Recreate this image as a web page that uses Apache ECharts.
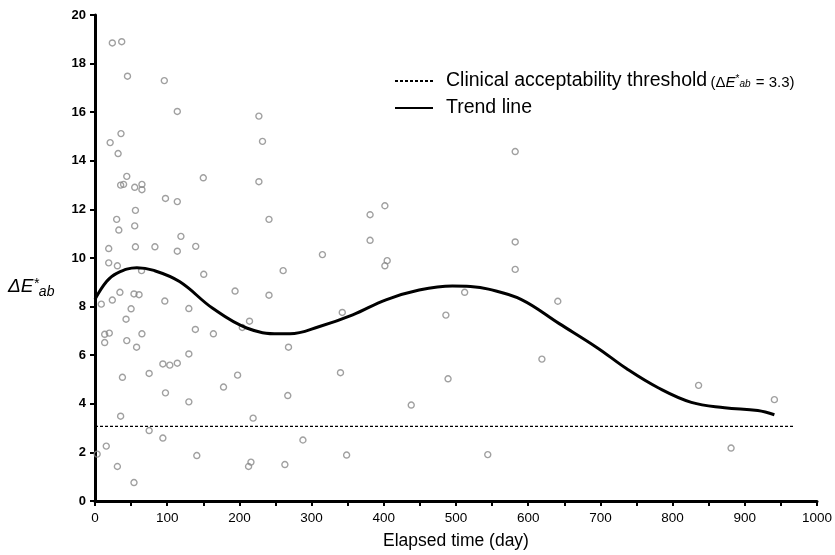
<!DOCTYPE html>
<html>
<head>
<meta charset="utf-8">
<script src="https://cdn.jsdelivr.net/npm/echarts@6/dist/echarts.min.js"></script>
<style>html,body{margin:0;padding:0;background:#fff;}#c{width:835px;height:555px;}</style>
</head>
<body>
<div id="c"></div>
<script>
// Measurements: elapsed time (day) and colour difference ΔE*ab
var scatterDays = [24,37,45,96,114,227,36,21,232,32,44,150,227,35.5,39.6,55,65,65,97.6,114,56,30,241,33,55,119,19,56,83,114,139.5,19,31,64.5,150.6,34.5,54,61,24,194,241,8.7,96.7,50,130,43,214,204,139,164,13.4,19.8,65,13.4,44,57.6,130,94,103.6,114,38,75,197.5,178,97.6,130,35.5,219,75,94,15.6,3,141,31,212.7,216,54,263,401.5,381,381,315,404.7,401.5,260.6,512,342.5,486,268,340,489,267,438,288,348.5,582,582,582,641,619,836,941,544,881];
var scatterValues = [18.85,18.9,17.48,17.3,16.03,15.84,15.12,14.75,14.8,14.3,13.36,13.3,13.14,13.0,13.03,12.91,13.03,12.81,12.45,12.32,11.96,11.59,11.59,11.15,11.32,10.89,10.39,10.46,10.46,10.28,10.48,9.8,9.68,9.48,9.33,8.59,8.52,8.49,8.27,8.64,8.47,8.1,8.23,7.91,7.92,7.48,7.4,7.14,7.06,6.88,6.86,6.91,6.88,6.52,6.6,6.33,6.05,5.64,5.59,5.67,5.09,5.25,5.18,4.69,4.45,4.08,3.49,3.41,2.9,2.59,2.26,1.93,1.87,1.42,1.42,1.6,0.76,1.5,12.15,11.78,10.73,10.14,9.89,9.68,9.48,8.59,7.76,7.65,6.33,5.28,5.03,4.34,3.95,2.51,1.89,14.38,10.66,9.53,8.22,5.84,4.76,4.17,1.91,2.18];

// Trend line
var trendDays   = [0, 16, 30, 58, 80, 117, 163, 210, 255, 270, 311, 357, 403, 449, 495, 520, 545, 590, 643, 696, 736, 780, 826, 872, 918, 941];
var trendValues = [8.3, 9.03, 9.37, 9.6, 9.5, 9.03, 7.93, 7.12, 6.88, 6.88, 7.18, 7.66, 8.28, 8.68, 8.85, 8.83, 8.72, 8.3, 7.3, 6.3, 5.45, 4.66, 4.06, 3.84, 3.72, 3.55];

// Clinical acceptability threshold (as drawn)
var thresholdDays = [0, 967];
var thresholdValue = 3.07;

var thresholdName = 'Clinical acceptability threshold';
var trendName = 'Trend line';

function zip(a, b) { return a.map(function (v, i) { return [v, b[i]]; }); }

var chart = echarts.init(document.getElementById('c'), null, {renderer: 'canvas'});
var FONT = 'Liberation Sans, Arial, sans-serif';

chart.setOption({
  animation: false,
  backgroundColor: '#fff',
  color: ['#888', '#000', '#000'],
  grid: {left: 95, top: 15, width: 724, height: 489, containLabel: false},
  xAxis: {
    type: 'value', min: 0, max: 1000, interval: 100,
    name: 'Elapsed time (day)', nameLocation: 'middle', nameGap: 31,
    nameTextStyle: {fontFamily: FONT, fontSize: 17.5, color: '#000'},
    axisLine: {show: true, onZero: false, lineStyle: {color: '#000', width: 3}},
    axisTick: {show: true, length: 5, lineStyle: {color: '#000', width: 2}},
    minorTick: {show: true, splitNumber: 2, length: 5, lineStyle: {color: '#000', width: 2}},
    axisLabel: {fontFamily: FONT, fontSize: 13.5, color: '#000', margin: 10,
      formatter: function (v) { return String(v); }},
    splitLine: {show: false}
  },
  yAxis: {
    type: 'value', min: 0, max: 20, interval: 2,
    axisLine: {show: true, onZero: false, lineStyle: {color: '#000', width: 3}},
    axisTick: {show: true, length: 5, lineStyle: {color: '#000', width: 2}},
    axisLabel: {fontFamily: FONT, fontSize: 13, fontWeight: 'bold', color: '#000', margin: 9},
    splitLine: {show: false}
  },
  legend: {
    orient: 'vertical', left: 389, top: 66,
    itemWidth: 38, itemHeight: 14, itemGap: 7,
    itemStyle: {opacity: 0},
    data: [thresholdName, trendName],
    formatter: function (name) {
      if (name === thresholdName) {
        return '{a|' + name + '} {s|(Δ}{si|E}{sup|*}{sub|ab}{s| = 3.3)}';
      }
      return '{a|' + name + '}';
    },
    textStyle: {
      fontFamily: FONT, color: '#000',
      rich: {
        a: {fontFamily: FONT, fontSize: 19.5, color: '#000', padding: [0, 0, 0, 8]},
        s: {fontFamily: FONT, fontSize: 15, color: '#000', padding: [3, 0, 0, 0]},
        si: {fontFamily: FONT, fontSize: 15, fontStyle: 'italic', color: '#000', padding: [3, 0, 0, 0]},
        sup: {fontFamily: FONT, fontSize: 10, color: '#000', padding: [0, 0, 3, 0]},
        sub: {fontFamily: FONT, fontSize: 10, fontStyle: 'italic', color: '#000', padding: [7, 1, 0, 0]}
      }
    }
  },
  graphic: [{
    type: 'text', left: 8, top: 277,
    style: {
      text: '{a|ΔE}{b|*}{c|ab}',
      rich: {
        a: {fontFamily: FONT, fontSize: 19, fontStyle: 'italic', fill: '#000'},
        b: {fontFamily: FONT, fontSize: 14, fontStyle: 'italic', fill: '#000', padding: [0, 0, 6, 0]},
        c: {fontFamily: FONT, fontSize: 14, fontStyle: 'italic', fill: '#000', padding: [10, 0, 0, 0]}
      }
    }
  }],
  series: [
    {
      name: 'data', type: 'scatter',
      data: zip(scatterDays, scatterValues),
      symbol: 'circle', symbolSize: 6,
      itemStyle: {color: 'transparent', borderColor: '#888', borderWidth: 1.4},
      z: 2
    },
    {
      name: thresholdName, type: 'line',
      data: thresholdDays.map(function (d) { return [d, thresholdValue]; }),
      symbol: 'none',
      itemStyle: {color: '#000'},
      lineStyle: {color: '#000', width: 1.2, type: [3, 2]},
      z: 3
    },
    {
      name: trendName, type: 'line',
      data: zip(trendDays, trendValues),
      smooth: 0.4, symbol: 'none',
      itemStyle: {color: '#000'},
      lineStyle: {color: '#000', width: 3},
      z: 4
    }
  ]
});
</script>
</body>
</html>
